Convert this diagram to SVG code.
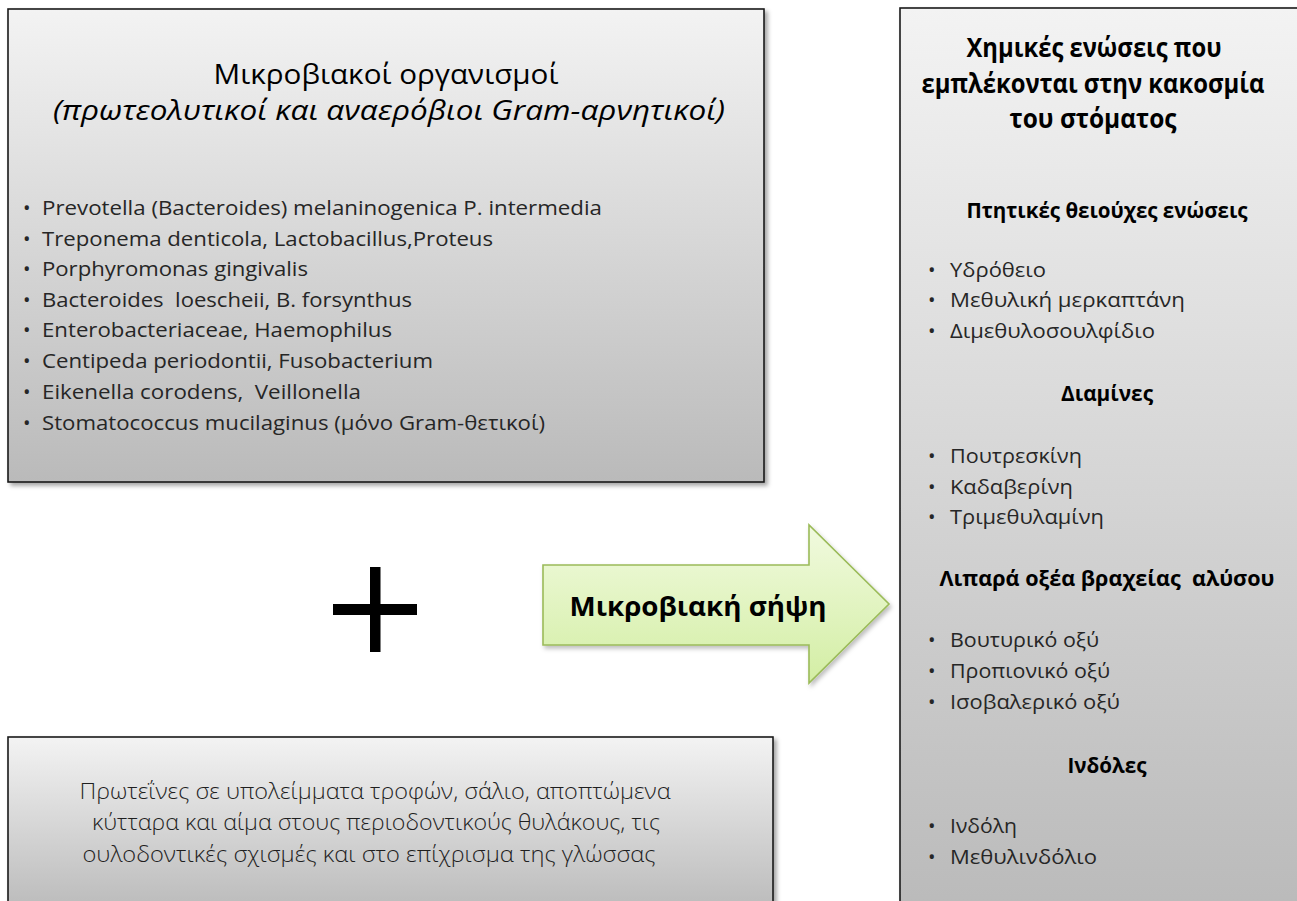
<svg xmlns="http://www.w3.org/2000/svg" width="1297" height="901" viewBox="0 0 1297 901">
<defs>
  <linearGradient id="gray" x1="0" y1="0" x2="0" y2="1">
    <stop offset="0" stop-color="#f3f3f3"/>
    <stop offset="1" stop-color="#bababa"/>
  </linearGradient>
  <linearGradient id="green" x1="0" y1="0" x2="0" y2="1">
    <stop offset="0" stop-color="#f1fadf"/>
    <stop offset="1" stop-color="#d3eea4"/>
  </linearGradient>
  <filter id="shadow" x="-5%" y="-5%" width="115%" height="115%">
    <feDropShadow dx="3" dy="3" stdDeviation="2" flood-color="#000" flood-opacity="0.35"/>
  </filter>
  <filter id="shadowSoft" x="-5%" y="-5%" width="115%" height="115%">
    <feDropShadow dx="2" dy="3" stdDeviation="2" flood-color="#000" flood-opacity="0.25"/>
  </filter>
</defs>
<style>
  .box { fill: url(#gray); stroke: #1a1a1a; stroke-width: 1.6; filter: url(#shadow); }
  .title { font-family: "Open Sans", "Liberation Sans", sans-serif; fill: #000; }
  .bul { font-family: "Open Sans", "Liberation Sans", sans-serif; font-size: 20px; fill: #262626; }
  .sub { font-family: "Open Sans", "Liberation Sans", sans-serif; font-size: 21px; font-weight: bold; fill: #000; text-anchor: middle; }
  .body { font-family: "Open Sans", "Liberation Sans", sans-serif; font-size: 22px; font-weight: 300; fill: #1f1f1f; text-anchor: middle; }
</style>
<rect width="1297" height="901" fill="#fff"/>

<g id="node-microorganisms">
  <rect class="box" x="8" y="9" width="756" height="473"/>
  <text class="title" x="386" y="84" font-size="28" text-anchor="middle" textLength="345" lengthAdjust="spacingAndGlyphs">Μικροβιακοί οργανισμοί</text>
  <text class="title" x="389" y="120" font-size="28" font-style="italic" text-anchor="middle" textLength="672" lengthAdjust="spacingAndGlyphs">(πρωτεολυτικοί και αναερόβιοι Gram-αρνητικοί)</text>
  <g class="bul">
    <text x="23" y="215">•</text><text x="42" y="215" textLength="560" lengthAdjust="spacingAndGlyphs">Prevotella (Bacteroides) melaninogenica P. intermedia</text>
    <text x="23" y="246">•</text><text x="42" y="246" textLength="451" lengthAdjust="spacingAndGlyphs">Treponema denticola, Lactobacillus,Proteus</text>
    <text x="23" y="276">•</text><text x="42" y="276" textLength="266" lengthAdjust="spacingAndGlyphs">Porphyromonas gingivalis</text>
    <text x="23" y="307">•</text><text x="42" y="307" textLength="370" lengthAdjust="spacingAndGlyphs" xml:space="preserve">Bacteroides  loescheii, B. forsynthus</text>
    <text x="23" y="337">•</text><text x="42" y="337" textLength="350" lengthAdjust="spacingAndGlyphs">Enterobacteriaceae, Haemophilus</text>
    <text x="23" y="368">•</text><text x="42" y="368" textLength="391" lengthAdjust="spacingAndGlyphs">Centipeda periodontii, Fusobacterium</text>
    <text x="23" y="399">•</text><text x="42" y="399" textLength="319" lengthAdjust="spacingAndGlyphs" xml:space="preserve">Eikenella corodens,  Veillonella</text>
    <text x="23" y="430">•</text><text x="42" y="430" textLength="503" lengthAdjust="spacingAndGlyphs">Stomatococcus mucilaginus (μόνο Gram-θετικοί)</text>
  </g>
</g>

<g id="node-plus">
  <rect x="370" y="567" width="10.5" height="85" fill="#000"/>
  <rect x="333" y="604" width="84" height="11" fill="#000"/>
</g>

<g id="node-proteins">
  <rect class="box" x="8" y="737" width="765" height="175"/>
  <text class="body" x="375" y="799" textLength="591" lengthAdjust="spacingAndGlyphs">Πρωτεΐνες σε υπολείμματα τροφών, σάλιο, αποπτώμενα</text>
  <text class="body" x="376" y="830" textLength="568" lengthAdjust="spacingAndGlyphs">κύτταρα και αίμα στους περιοδοντικούς θυλάκους, τις</text>
  <text class="body" x="369" y="862" textLength="573" lengthAdjust="spacingAndGlyphs">ουλοδοντικές σχισμές και στο επίχρισμα της γλώσσας</text>
</g>

<g id="node-compounds">
  <rect class="box" x="900" y="8" width="410" height="905"/>
  <text class="title" x="1094" y="57" font-size="26" font-weight="bold" text-anchor="middle" textLength="255" lengthAdjust="spacingAndGlyphs">Χημικές ενώσεις που</text>
  <text class="title" x="1093" y="93" font-size="26" font-weight="bold" text-anchor="middle" textLength="343" lengthAdjust="spacingAndGlyphs">εμπλέκονται στην κακοσμία</text>
  <text class="title" x="1093" y="128" font-size="26" font-weight="bold" text-anchor="middle" textLength="167" lengthAdjust="spacingAndGlyphs">του στόματος</text>

  <text class="sub" x="1107" y="218" textLength="281" lengthAdjust="spacingAndGlyphs">Πτητικές θειούχες ενώσεις</text>
  <g class="bul">
    <text x="928" y="277">•</text><text x="950" y="277" textLength="96" lengthAdjust="spacingAndGlyphs">Υδρόθειο</text>
    <text x="928" y="307">•</text><text x="950" y="307" textLength="235" lengthAdjust="spacingAndGlyphs">Μεθυλική μερκαπτάνη</text>
    <text x="928" y="338">•</text><text x="950" y="338" textLength="205" lengthAdjust="spacingAndGlyphs">Διμεθυλοσουλφίδιο</text>
  </g>

  <text class="sub" x="1107" y="401" textLength="92" lengthAdjust="spacingAndGlyphs">Διαμίνες</text>
  <g class="bul">
    <text x="928" y="463">•</text><text x="950" y="463" textLength="132" lengthAdjust="spacingAndGlyphs">Πουτρεσκίνη</text>
    <text x="928" y="494">•</text><text x="950" y="494" textLength="123" lengthAdjust="spacingAndGlyphs">Καδαβερίνη</text>
    <text x="928" y="524">•</text><text x="950" y="524" textLength="154" lengthAdjust="spacingAndGlyphs">Τριμεθυλαμίνη</text>
  </g>

  <text class="sub" x="1107" y="586" textLength="335" lengthAdjust="spacingAndGlyphs" xml:space="preserve">Λιπαρά οξέα βραχείας  αλύσου</text>
  <g class="bul">
    <text x="928" y="647">•</text><text x="950" y="647" textLength="149" lengthAdjust="spacingAndGlyphs">Βουτυρικό οξύ</text>
    <text x="928" y="678">•</text><text x="950" y="678" textLength="160" lengthAdjust="spacingAndGlyphs">Προπιονικό οξύ</text>
    <text x="928" y="709">•</text><text x="950" y="709" textLength="170" lengthAdjust="spacingAndGlyphs">Ισοβαλερικό οξύ</text>
  </g>

  <text class="sub" x="1107" y="773" textLength="79" lengthAdjust="spacingAndGlyphs">Ινδόλες</text>
  <g class="bul">
    <text x="928" y="833">•</text><text x="950" y="833" textLength="67" lengthAdjust="spacingAndGlyphs">Ινδόλη</text>
    <text x="928" y="864">•</text><text x="950" y="864" textLength="147" lengthAdjust="spacingAndGlyphs">Μεθυλινδόλιο</text>
  </g>
</g>

<g id="connectors">
  <g id="arrow-sepsis">
    <polygon points="543,565 809,565 809,525 889,604 809,683 809,645 543,645" fill="url(#green)" stroke="#9bbb59" stroke-width="1.6" stroke-linejoin="miter" filter="url(#shadowSoft)"/>
    <text class="title" x="698" y="616" font-size="27" font-weight="bold" text-anchor="middle" textLength="257" lengthAdjust="spacingAndGlyphs">Μικροβιακή σήψη</text>
  </g>
</g>
</svg>
